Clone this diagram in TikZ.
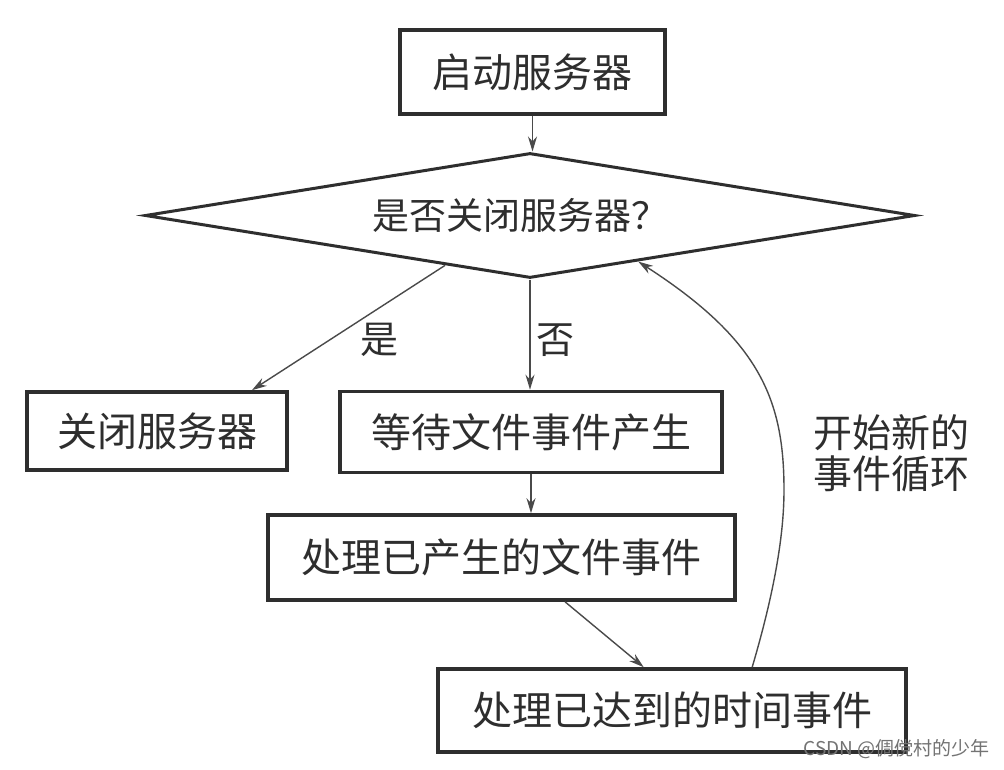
\documentclass[tikz,border=0pt]{standalone}
\usepackage{fontspec}
\setmainfont{Noto Sans CJK SC}
\usetikzlibrary{shapes.geometric,arrows.meta,calc}
\definecolor{ink}{HTML}{2E2E2E}
\definecolor{lnk}{HTML}{4A4A4A}
\begin{document}
\begin{tikzpicture}[x=1pt,y=-1pt,
  stepbox/.style={draw=ink,line width=3.6pt,rectangle,inner sep=0pt,text=ink,font=\fontsize{40}{44}\selectfont},
  decbox/.style={draw=ink,line width=3pt,diamond,inner sep=0pt,minimum width=770pt,minimum height=125pt},
  flow/.style={draw=lnk,line width=1.4pt,-{Stealth[length=15pt,width=9pt]}},
  lbl/.style={text=ink,font=\fontsize{38}{42}\selectfont,inner sep=0pt}]
\useasboundingbox[fill=white] (0,0) rectangle (1004,770);

\node[stepbox,minimum width=265pt,minimum height=84pt] (start) at (532.5,72) {启动服务器};
\node[decbox] (dec) at (530,215.5) {};
\node[lbl,font=\fontsize{37}{42}\selectfont] (dectext) at (520,215.5) {是否关闭服务器？};
\node[stepbox,minimum width=260pt,minimum height=78pt] (close) at (157,431) {关闭服务器};
\node[stepbox,minimum width=382pt,minimum height=81pt] (wait) at (531,432) {等待文件事件产生};
\node[stepbox,minimum width=467pt,minimum height=85pt] (proc) at (501.5,557.5) {处理已产生的文件事件};
\node[stepbox,minimum width=468pt,minimum height=83pt] (time) at (672,710.5) {处理已达到的时间事件};

\node[lbl] (yes) at (379,340) {是};
\node[lbl] (no) at (555,340) {否};
\node[lbl,anchor=west,align=left,font=\fontsize{39}{41}\selectfont] (loop) at (813,453) {开始新的\\事件循环};

\node[anchor=east,text=black!55,font=\fontsize{19}{22}\selectfont,inner sep=0pt] (wm) at (990,749) {CSDN @倜傥村的少年};

\draw[flow] (start.south) -- (start.south |- dec.north);
\draw[flow] ($(dec.west)!0.78!(dec.south)$) -- ($(close.north west)!0.86!(close.north east)$);
\draw[flow] (dec.south) -- (dec.south |- wait.north);
\draw[flow] (wait.south) -- (wait.south |- proc.north);
\draw[flow] ($(proc.south west)!0.635!(proc.south east)$) -- ($(time.north west)!0.44!(time.north east)$);
\coordinate (mid) at (784,490);
\draw[flow] ($(time.north west)!0.67!(time.north east)$) .. controls (772,600) and (784,540) .. (mid)
   .. controls (784,400) and (760,340) .. ($(dec.south)!0.28!(dec.east)$);
\end{tikzpicture}
\end{document}
